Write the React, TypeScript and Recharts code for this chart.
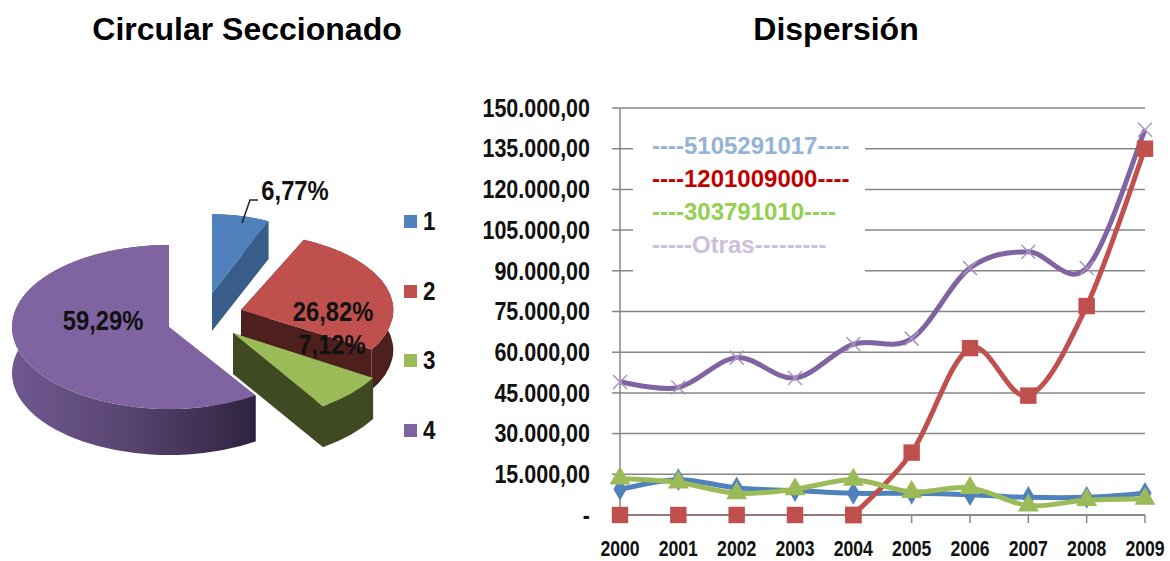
import React from "react";
import { Pie, PieChart, Legend, LineChart, Line, XAxis, YAxis, CartesianGrid, Symbols } from "recharts";

const FONT = "'Liberation Sans', Arial, sans-serif";

// pie
const sliceNames = ["1", "2", "3", "4"];
const sliceValues = [6.77, 26.82, 7.12, 59.29];
const sliceLabels = ["6,77%", "26,82%", "7,12%", "59,29%"];

// lines
const years = ["2000", "2001", "2002", "2003", "2004", "2005", "2006", "2007", "2008", "2009"];
const blue = [9500, 13000, 10000, 9000, 8000, 8000, 7500, 6500, 6500, 8000];
const red = [0, 0, 0, 0, 0, 23000, 61500, 44000, 77000, 135000];
const green = [13500, 12000, 8000, 9500, 13000, 8500, 10000, 3500, 5500, 6000];
const purple = [49000, 47000, 58000, 50500, 63000, 65000, 91000, 97000, 91000, 142000];
const yTicks = [0, 15000, 30000, 45000, 60000, 75000, 90000, 105000, 120000, 135000, 150000];
const legendRows = ["----5105291017----", "----1201009000----", "----303791010----", "-----Otras---------"];

// look of the 3d slices, one per slice
const SQUASH = 0.522;
const sliceLook = [
  { top: "#4f81bd", side: "#385d8a", dx: 43, dy: -32, depth: 38, sx: 0.87, sy: 0.96 },
  { top: "#c0504d", side: "#4d1f1d", dx: 72, dy: -15, depth: 40, sx: 0.97, sy: 0.94 },
  { top: "#9bbb59", side: "#3f4a22", dx: 64, dy: 8, depth: 41, sx: 1.04, sy: 1.07 },
  { top: "#8064a2", side: "url(#purpleSide)", dx: 0, dy: 2, depth: 46, sx: 1, sy: 1 },
];
const labelSpots = [
  { dx: 126, dy: -134 },
  { dx: 164, dy: -13 },
  { dx: 163, dy: 20 },
  { dx: -66, dy: -4 },
];
const legendColors = ["#95b3d7", "#c00000", "#92d050", "#ccc0da"];

const pieData = sliceNames.map((name, i) => ({ name, value: sliceValues[i] }));
const lineData = years.map((year, i) => ({
  year,
  blue: blue[i],
  redFlat: i <= 4 ? red[i] : null,
  redRise: i >= 4 ? red[i] : null,
  green: green[i],
  purple: purple[i],
}));

function SliceShape(props: any) {
  const { cx, cy, outerRadius, startAngle, endAngle, name } = props;
  const i = sliceNames.indexOf(name);
  const look = sliceLook[i];
  const ox = cx + look.dx;
  const oy = cy + look.dy;
  const rx = outerRadius * look.sx;
  const ry = outerRadius * SQUASH * look.sy;
  const at = (deg: number) => {
    const a = ((90 - deg) * Math.PI) / 180;
    return [ox + rx * Math.sin(a), oy - ry * Math.cos(a)];
  };
  const [sx, sy] = at(startAngle);
  const [ex, ey] = at(endAngle);
  const large = Math.abs(startAngle - endAngle) > 180 ? 1 : 0;
  const d = look.depth;
  const top = `M${ox},${oy}L${sx},${sy}A${rx},${ry} 0 ${large} 1 ${ex},${ey}Z`;
  const strip = `M${sx},${sy}A${rx},${ry} 0 ${large} 1 ${ex},${ey}L${ex},${ey + d}A${rx},${ry} 0 ${large} 0 ${sx},${sy + d}Z`;
  const faceA = `M${ox},${oy}L${sx},${sy}L${sx},${sy + d}L${ox},${oy + d}Z`;
  const faceB = `M${ox},${oy}L${ex},${ey}L${ex},${ey + d}L${ox},${oy + d}Z`;
  return (
    <g>
      <defs>
        <linearGradient id="purpleSide" x1="0" y1="0" x2="1" y2="0">
          <stop offset="0%" stopColor="#6f5890" />
          <stop offset="45%" stopColor="#5a4673" />
          <stop offset="100%" stopColor="#2e233f" />
        </linearGradient>
      </defs>
      <path d={faceA} fill={look.side} />
      <path d={faceB} fill={look.side} />
      <path d={strip} fill={look.side} />
      <path d={top} fill={look.top} />
    </g>
  );
}

function SliceLabel(props: any) {
  const { cx, cy, index } = props;
  const spot = labelSpots[index];
  const x = cx + spot.dx;
  const y = cy + spot.dy;
  return (
    <g>
      {index === 0 && <polyline points={`${x - 53},${y + 32} ${x - 45},${y + 9} ${x - 37},${y + 9}`} fill="none" stroke="#222" strokeWidth={1.5} />}
      <text transform={`translate(${x},${y}) scale(0.88,1)`} textAnchor="middle" dy="0.35em" fontFamily={FONT} fontWeight="bold" fontSize={27} fill="#111">
        {sliceLabels[index]}
      </text>
    </g>
  );
}

function PieLegend() {
  return (
    <div style={{ fontFamily: FONT, fontWeight: "bold" }}>
      {sliceNames.map((n, i) => (
        <div key={n} style={{ height: 69.5, display: "flex", alignItems: "center" }}>
          <span style={{ width: 13, height: 13, background: sliceLook[i].top, marginRight: 5 }} />
          <span style={{ fontSize: 26, color: "#111", display: "inline-block", transform: "scaleX(0.86)" }}>{n}</span>
        </div>
      ))}
    </div>
  );
}

function LineLegend() {
  return (
    <div style={{ fontFamily: FONT, fontWeight: "bold", background: "#fff", width: 232, height: 160, paddingTop: 4, paddingLeft: 19, boxSizing: "border-box" }}>
      {legendRows.map((t, i) => (
        <div key={t} style={{ height: 33, lineHeight: "33px", fontSize: 24, color: legendColors[i], whiteSpace: "nowrap" }}>{t}</div>
      ))}
    </div>
  );
}

function YTick(props: any) {
  const { x, y, payload } = props;
  const label = payload.value === 0 ? "-" : payload.value.toLocaleString("de-DE", { minimumFractionDigits: 2 });
  return (
    <text transform={`translate(${x},${y}) scale(0.86,1)`} textAnchor="end" dy="0.35em" fontFamily={FONT} fontWeight="bold" fontSize={25} fill="#111">
      {label}
    </text>
  );
}

function XTick(props: any) {
  const { x, y, payload } = props;
  return (
    <text transform={`translate(${x},${y}) scale(0.8,1)`} textAnchor="middle" dy="0.71em" fontFamily={FONT} fontWeight="bold" fontSize={22} fill="#111">
      {payload.value}
    </text>
  );
}

// excel style smoothing, goes through every point and overshoots a little
function smoothCurve(context: any) {
  let pts: number[][] = [];
  return {
    areaStart() {},
    areaEnd() {},
    lineStart() {
      pts = [];
    },
    point(x: number, y: number) {
      pts.push([+x, +y]);
    },
    lineEnd() {
      if (!pts.length) return;
      context.moveTo(pts[0][0], pts[0][1]);
      for (let i = 0; i < pts.length - 1; i++) {
        const p0 = pts[Math.max(i - 1, 0)];
        const p1 = pts[i];
        const p2 = pts[i + 1];
        const p3 = pts[Math.min(i + 2, pts.length - 1)];
        context.bezierCurveTo(
          p1[0] + (p2[0] - p0[0]) / 6,
          p1[1] + (p2[1] - p0[1]) / 6,
          p2[0] - (p3[0] - p1[0]) / 6,
          p2[1] - (p3[1] - p1[1]) / 6,
          p2[0],
          p2[1]
        );
      }
    },
  };
}

const marker = (type: any, size: number, fill: string) => (p: any) =>
  p.value == null ? <g key={p.key} /> : <Symbols key={p.key} cx={p.cx} cy={p.cy} type={type} size={size} fill={fill} />;

const crossDot = (p: any) => (
  <path key={p.key} d={`M${p.cx - 7},${p.cy - 7}L${p.cx + 7},${p.cy + 7}M${p.cx - 7},${p.cy + 7}L${p.cx + 7},${p.cy - 7}`} stroke="#a996c4" strokeWidth={1.5} fill="none" />
);

const titleStyle: React.CSSProperties = { position: "absolute", top: 12, fontFamily: FONT, fontWeight: "bold", fontSize: 32, lineHeight: "34px", textAlign: "center", color: "#000", whiteSpace: "nowrap" };

export default function App() {
  return (
    <div style={{ position: "absolute", left: 0, top: 0, width: 1170, height: 561, background: "#fff", overflow: "hidden" }}>
      <div style={{ ...titleStyle, left: 47, width: 400 }}>Circular Seccionado</div>
      <div style={{ ...titleStyle, left: 636, width: 400 }}>Dispersión</div>

      <div style={{ position: "absolute", left: 0, top: 0 }}>
        <PieChart width={470} height={561} margin={{ top: 0, right: 0, bottom: 0, left: 0 }}>
          <Pie
            data={pieData}
            dataKey="value"
            nameKey="name"
            cx={169}
            cy={325}
            innerRadius={0}
            outerRadius={157}
            startAngle={90}
            endAngle={-270}
            stroke="none"
            shape={SliceShape}
            label={SliceLabel}
            labelLine={false}
            isAnimationActive={false}
          />
          <Legend layout="horizontal" align="center" verticalAlign="middle" content={PieLegend} wrapperStyle={{ position: "absolute", left: 404, top: 187, width: 60, bottom: "auto" }} />
        </PieChart>
      </div>

      <div style={{ position: "absolute", left: 470, top: 0 }}>
        <LineChart width={700} height={561} data={lineData} margin={{ top: 108, right: 25, bottom: 0, left: 0 }}>
          <CartesianGrid vertical={false} stroke="#868686" strokeWidth={1.5} />
          <XAxis
            dataKey="year"
            scale="point"
            padding={{ left: 0, right: 0 }}
            interval={0}
            height={46}
            tickSize={8}
            tickMargin={17}
            stroke="#868686"
            strokeWidth={1.5}
            tick={XTick}
          />
          <YAxis
            domain={[0, 150000]}
            ticks={yTicks}
            interval={0}
            width={150}
            tickSize={8}
            tickMargin={22}
            stroke="#868686"
            strokeWidth={1.5}
            tick={YTick}
          />
          <Line dataKey="blue" type={smoothCurve as any} stroke="#4f81bd" strokeWidth={5} dot={marker("diamond", 150, "#4f81bd")} isAnimationActive={false} />
          <Line dataKey="redFlat" type="linear" stroke="#c0504d" strokeWidth={2} dot={marker("square", 270, "#c0504d")} isAnimationActive={false} />
          <Line dataKey="redRise" type={smoothCurve as any} stroke="#c0504d" strokeWidth={5} dot={marker("square", 270, "#c0504d")} isAnimationActive={false} />
          <Line dataKey="green" type={smoothCurve as any} stroke="#9bbb59" strokeWidth={5} dot={marker("triangle", 190, "#9bbb59")} isAnimationActive={false} />
          <Line dataKey="purple" type={smoothCurve as any} stroke="#8064a2" strokeWidth={5} dot={crossDot} isAnimationActive={false} />
          <Legend layout="horizontal" align="center" verticalAlign="middle" content={LineLegend} wrapperStyle={{ position: "absolute", left: 163, top: 125, width: 232, bottom: "auto" }} />
        </LineChart>
      </div>
    </div>
  );
}
